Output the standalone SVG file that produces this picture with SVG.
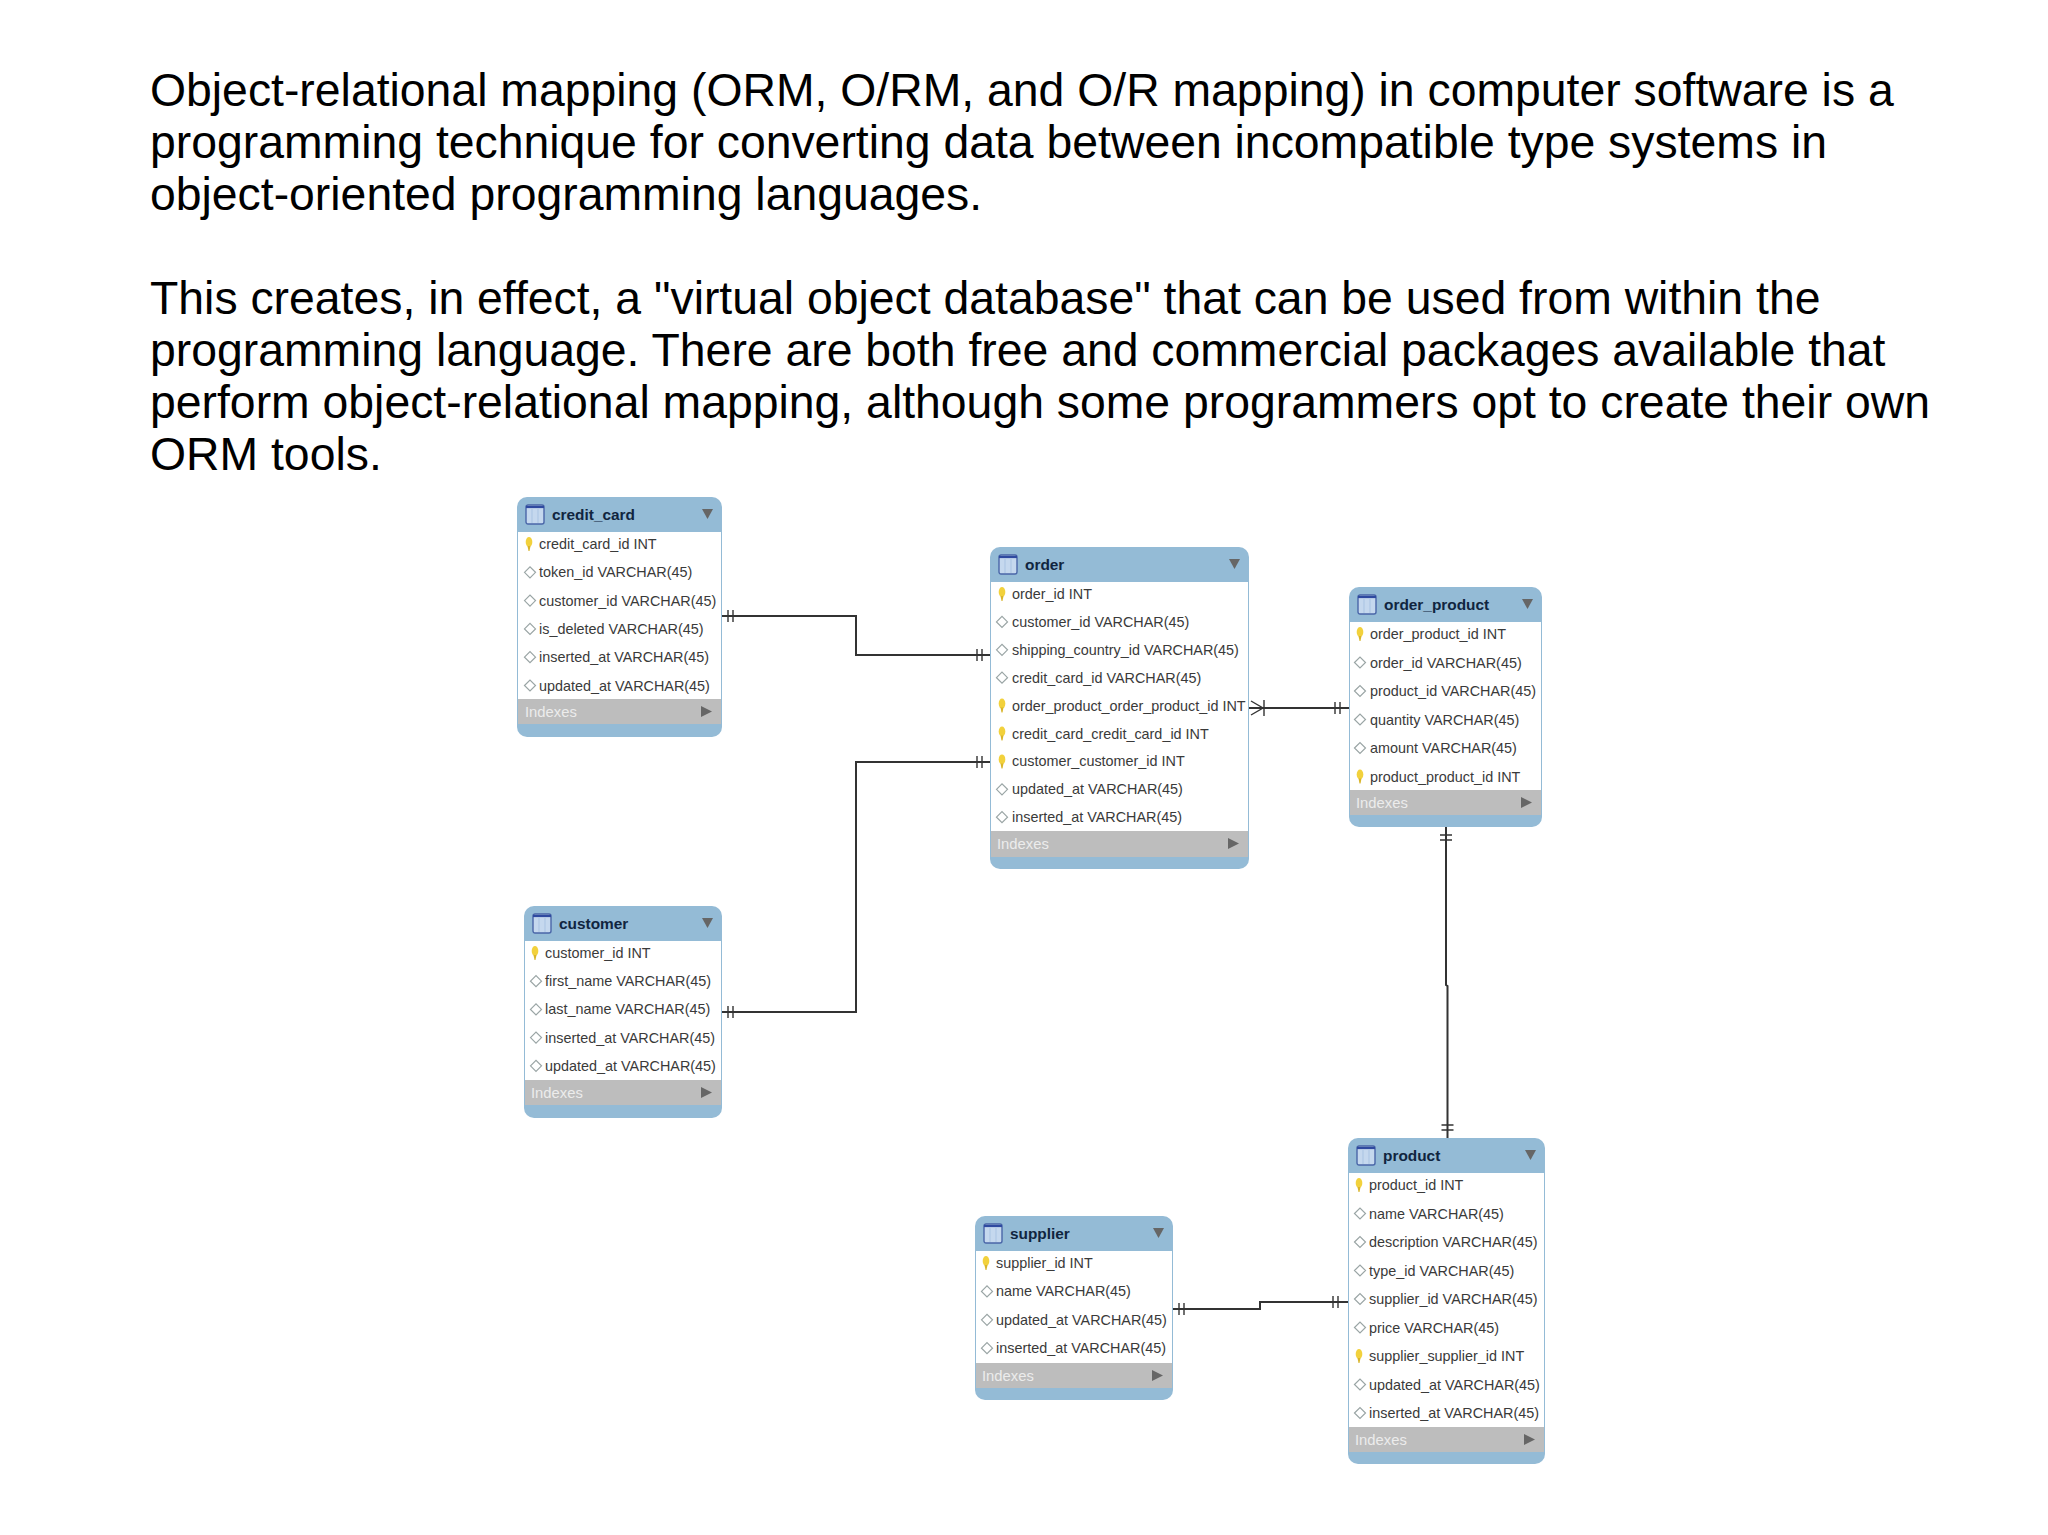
<svg xmlns="http://www.w3.org/2000/svg" width="2048" height="1535" viewBox="0 0 2048 1535">
<style>
text{font-family:"Liberation Sans",Arial,sans-serif}
.p{font-size:46.35px;fill:#000}
.r{font-size:14.4px;fill:#3a3a3a}
.t{font-size:15.4px;font-weight:700;fill:#10253f}
.i{font-size:14.8px;fill:#ececec}
.b{fill:#94bbd6}
.w{fill:#fff}
.g{fill:#bdbdbd}
.c{fill:none;stroke:#333;stroke-width:2}
.m{fill:none;stroke:#333;stroke-width:1.4}
.s{fill:#666}
</style>
<defs>
<g id="k"><ellipse cx="0" cy="-2" rx="3.3" ry="5" fill="#f2d13c"/><path d="M-1.5 2L1.5 2L0.5 7L-.5 7Z" fill="#d9b52a"/></g>
<path id="d" d="M-5.5 0L0 -5.5L5.5 0L0 5.500Z" fill="#fff" stroke="#9aa5a5" stroke-width="1.2"/>
<g id="n"><rect x="0" y="0" width="18" height="19" rx="2" fill="#c5d8ee" stroke="#4a66a8" stroke-width="1.4"/><path d="M0 2H18" stroke="#2f4aa0" stroke-width="2.2"/><path d="M6 4V18M12 4V18" stroke="#a9c3e2" stroke-width="1"/></g>
<path id="v" d="M0 0H11L5.5 10Z" class="s"/>
<path id="a" d="M0 0L11 5.5L0 11Z" class="s"/>
</defs>
<rect width="2048" height="1535" fill="#fff"/>
<g id="intro">
<text class="p" x="150" y="106">Object-relational mapping (ORM, O/RM, and O/R mapping) in computer software is a</text>
<text class="p" x="150" y="158">programming technique for converting data between incompatible type systems in</text>
<text class="p" x="150" y="210">object-oriented programming languages.</text>
<text class="p" x="150" y="314">This creates, in effect, a "virtual object database" that can be used from within the</text>
<text class="p" x="150" y="366">programming language. There are both free and commercial packages available that</text>
<text class="p" x="150" y="418">perform object-relational mapping, although some programmers opt to create their own</text>
<text class="p" x="150" y="470">ORM tools.</text>
</g>
<g id="connectors">
<path class="c" d="M722 616H856V655H990"/>
<path class="m" d="M728 610V622M733 610V622"/>
<path class="m" d="M977 649V661M982 649V661"/>
<path class="c" d="M722 1012H856V762H990"/>
<path class="m" d="M728 1006V1018M733 1006V1018"/>
<path class="m" d="M977 756V768M982 756V768"/>
<path class="c" d="M1249 708H1349"/>
<path class="m" d="M1251 701L1263 708L1251 715M1264 700V716"/>
<path class="m" d="M1335 702V714M1340 702V714"/>
<path class="c" d="M1450 827V985L1451.500 986V1138" transform="translate(-4 0)"/>
<path class="m" d="M1440 835H1452M1440 840H1452"/>
<path class="m" d="M1441.500 1125H1453.500M1441.500 1130H1453.500"/>
<path class="c" d="M1173 1309H1260V1302H1348"/>
<path class="m" d="M1179 1303V1315M1184 1303V1315"/>
<path class="m" d="M1333 1296V1308M1338 1296V1308"/>
</g>
<g id="credit_card" transform="translate(517 497)">
<rect class="b" width="205" height="240" rx="10"/>
<rect class="w" x="1" y="35" width="203" height="167"/>
<rect class="g" x="1" y="202" width="203" height="25"/>
<use href="#n" x="9" y="8"/>
<text class="t" x="35" y="23">credit_card</text>
<use href="#v" x="185" y="12"/>
<use href="#k" x="12" y="47"/><text class="r" x="22" y="52">credit_card_id INT</text>
<use href="#d" x="13" y="75.300"/><text class="r" x="22" y="80.300">token_id VARCHAR(45)</text>
<use href="#d" x="13" y="103.600"/><text class="r" x="22" y="108.600">customer_id VARCHAR(45)</text>
<use href="#d" x="13" y="131.900"/><text class="r" x="22" y="136.900">is_deleted VARCHAR(45)</text>
<use href="#d" x="13" y="160.200"/><text class="r" x="22" y="165.200">inserted_at VARCHAR(45)</text>
<use href="#d" x="13" y="188.500"/><text class="r" x="22" y="193.500">updated_at VARCHAR(45)</text>
<text class="i" x="8" y="220">Indexes</text>
<use href="#a" x="184" y="209"/>
</g>
<g id="order" transform="translate(990 547)">
<rect class="b" width="259" height="322" rx="10"/>
<rect class="w" x="1" y="35" width="257" height="249"/>
<rect class="g" x="1" y="284" width="257" height="26"/>
<use href="#n" x="9" y="8"/>
<text class="t" x="35" y="23">order</text>
<use href="#v" x="239" y="12"/>
<use href="#k" x="12" y="47"/><text class="r" x="22" y="52">order_id INT</text>
<use href="#d" x="12" y="74.900"/><text class="r" x="22" y="79.900">customer_id VARCHAR(45)</text>
<use href="#d" x="12" y="102.800"/><text class="r" x="22" y="107.800">shipping_country_id VARCHAR(45)</text>
<use href="#d" x="12" y="130.700"/><text class="r" x="22" y="135.700">credit_card_id VARCHAR(45)</text>
<use href="#k" x="12" y="158.600"/><text class="r" x="22" y="163.600">order_product_order_product_id INT</text>
<use href="#k" x="12" y="186.500"/><text class="r" x="22" y="191.500">credit_card_credit_card_id INT</text>
<use href="#k" x="12" y="214.400"/><text class="r" x="22" y="219.400">customer_customer_id INT</text>
<use href="#d" x="12" y="242.300"/><text class="r" x="22" y="247.300">updated_at VARCHAR(45)</text>
<use href="#d" x="12" y="270.200"/><text class="r" x="22" y="275.200">inserted_at VARCHAR(45)</text>
<text class="i" x="7" y="302">Indexes</text>
<use href="#a" x="238" y="291"/>
</g>
<g id="order_product" transform="translate(1349 587)">
<rect class="b" width="193" height="240" rx="10"/>
<rect class="w" x="1" y="35" width="191" height="168"/>
<rect class="g" x="1" y="203" width="191" height="25"/>
<use href="#n" x="9" y="8"/>
<text class="t" x="35" y="23">order_product</text>
<use href="#v" x="173" y="12"/>
<use href="#k" x="11" y="47"/><text class="r" x="21" y="52">order_product_id INT</text>
<use href="#d" x="11" y="75.500"/><text class="r" x="21" y="80.500">order_id VARCHAR(45)</text>
<use href="#d" x="11" y="104"/><text class="r" x="21" y="109">product_id VARCHAR(45)</text>
<use href="#d" x="11" y="132.500"/><text class="r" x="21" y="137.500">quantity VARCHAR(45)</text>
<use href="#d" x="11" y="161"/><text class="r" x="21" y="166">amount VARCHAR(45)</text>
<use href="#k" x="11" y="189.500"/><text class="r" x="21" y="194.500">product_product_id INT</text>
<text class="i" x="7" y="221">Indexes</text>
<use href="#a" x="172" y="210"/>
</g>
<g id="customer" transform="translate(524 906)">
<rect class="b" width="198" height="212" rx="10"/>
<rect class="w" x="1" y="35" width="196" height="139"/>
<rect class="g" x="1" y="174" width="196" height="25"/>
<use href="#n" x="9" y="8"/>
<text class="t" x="35" y="23">customer</text>
<use href="#v" x="178" y="12"/>
<use href="#k" x="11" y="47"/><text class="r" x="21" y="52">customer_id INT</text>
<use href="#d" x="12" y="75.200"/><text class="r" x="21" y="80.200">first_name VARCHAR(45)</text>
<use href="#d" x="12" y="103.400"/><text class="r" x="21" y="108.400">last_name VARCHAR(45)</text>
<use href="#d" x="12" y="131.600"/><text class="r" x="21" y="136.600">inserted_at VARCHAR(45)</text>
<use href="#d" x="12" y="159.800"/><text class="r" x="21" y="164.800">updated_at VARCHAR(45)</text>
<text class="i" x="7" y="192">Indexes</text>
<use href="#a" x="177" y="181"/>
</g>
<g id="supplier" transform="translate(975 1216)">
<rect class="b" width="198" height="184" rx="10"/>
<rect class="w" x="1" y="35" width="196" height="112"/>
<rect class="g" x="1" y="147" width="196" height="25"/>
<use href="#n" x="9" y="8"/>
<text class="t" x="35" y="23">supplier</text>
<use href="#v" x="178" y="12"/>
<use href="#k" x="11" y="47"/><text class="r" x="21" y="52">supplier_id INT</text>
<use href="#d" x="12" y="75.400"/><text class="r" x="21" y="80.400">name VARCHAR(45)</text>
<use href="#d" x="12" y="103.800"/><text class="r" x="21" y="108.800">updated_at VARCHAR(45)</text>
<use href="#d" x="12" y="132.200"/><text class="r" x="21" y="137.200">inserted_at VARCHAR(45)</text>
<text class="i" x="7" y="165">Indexes</text>
<use href="#a" x="177" y="154"/>
</g>
<g id="product" transform="translate(1348 1138)">
<rect class="b" width="197" height="326" rx="10"/>
<rect class="w" x="1" y="35" width="195" height="254"/>
<rect class="g" x="1" y="289" width="195" height="25"/>
<use href="#n" x="9" y="8"/>
<text class="t" x="35" y="23">product</text>
<use href="#v" x="177" y="12"/>
<use href="#k" x="11" y="47"/><text class="r" x="21" y="52">product_id INT</text>
<use href="#d" x="12" y="75.500"/><text class="r" x="21" y="80.500">name VARCHAR(45)</text>
<use href="#d" x="12" y="104"/><text class="r" x="21" y="109">description VARCHAR(45)</text>
<use href="#d" x="12" y="132.500"/><text class="r" x="21" y="137.500">type_id VARCHAR(45)</text>
<use href="#d" x="12" y="161"/><text class="r" x="21" y="166">supplier_id VARCHAR(45)</text>
<use href="#d" x="12" y="189.500"/><text class="r" x="21" y="194.500">price VARCHAR(45)</text>
<use href="#k" x="11" y="218"/><text class="r" x="21" y="223">supplier_supplier_id INT</text>
<use href="#d" x="12" y="246.500"/><text class="r" x="21" y="251.500">updated_at VARCHAR(45)</text>
<use href="#d" x="12" y="275"/><text class="r" x="21" y="280">inserted_at VARCHAR(45)</text>
<text class="i" x="7" y="307">Indexes</text>
<use href="#a" x="176" y="296"/>
</g>
</svg>
